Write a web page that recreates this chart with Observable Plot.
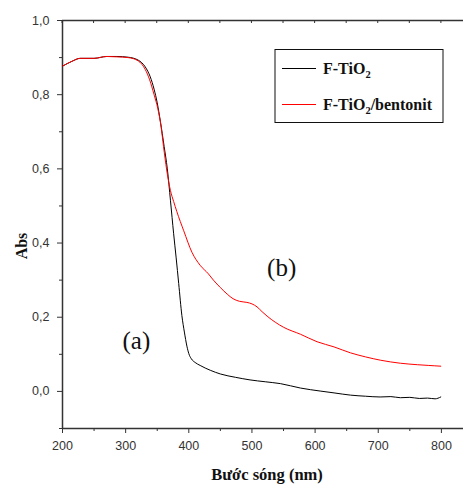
<!DOCTYPE html>
<html><head><meta charset="utf-8">
<script src="https://cdn.jsdelivr.net/npm/d3@7"></script>
<script src="https://cdn.jsdelivr.net/npm/@observablehq/plot@0.6"></script>
<style>body{margin:0;background:#fff} svg{display:block}</style>
</head><body><div id="chart"></div>
<script>
// ---- data ----
const xTicks = [200, 300, 400, 500, 600, 700, 800];
const xMinorTicks = [250, 350, 450, 550, 650, 750];
const xTopTicks = [200, 250, 300, 350, 400, 450, 500, 550, 600, 650, 700, 750, 800];
const yTicks = [0.0, 0.2, 0.4, 0.6, 0.8, 1.0];
const yMinorTicks = [-0.1, 0.1, 0.3, 0.5, 0.7, 0.9];

const seriesNames = ["F-TiO2", "F-TiO2/bentonit"];

const blackWl  = [200, 215, 228, 250, 270, 286, 304, 320, 331, 339, 345, 350, 355, 361, 366, 371, 376, 380, 384, 389, 393, 397, 400, 404, 410, 418, 426, 434, 450, 474, 497, 521, 545, 577, 608, 630, 656, 680, 703, 720, 735, 750, 765, 778, 790, 799];
const blackAbs = [0.877, 0.890, 0.898, 0.898, 0.903, 0.903, 0.901, 0.893, 0.875, 0.848, 0.815, 0.778, 0.728, 0.660, 0.600, 0.514, 0.425, 0.360, 0.291, 0.205, 0.160, 0.122, 0.102, 0.088, 0.078, 0.070, 0.063, 0.057, 0.047, 0.038, 0.031, 0.026, 0.021, 0.009, 0.001, -0.004, -0.010, -0.013, -0.015, -0.014, -0.017, -0.016, -0.019, -0.018, -0.020, -0.015];

const redWl  = [200, 215, 228, 250, 270, 286, 304, 320, 331, 338, 345, 351, 356, 360, 365, 371, 376, 381, 392, 405, 418, 431, 439, 450, 461, 470, 480, 492, 500, 508, 516, 524, 550, 577, 603, 630, 656, 680, 704, 735, 762, 780, 799];
const redAbs = [0.877, 0.890, 0.898, 0.898, 0.903, 0.902, 0.900, 0.891, 0.868, 0.840, 0.800, 0.762, 0.715, 0.660, 0.597, 0.541, 0.512, 0.485, 0.433, 0.375, 0.340, 0.317, 0.300, 0.280, 0.262, 0.250, 0.243, 0.240, 0.236, 0.228, 0.215, 0.203, 0.173, 0.154, 0.134, 0.120, 0.104, 0.093, 0.084, 0.076, 0.072, 0.070, 0.068];

const annotText = ["(a)", "(b)"];
const annotWl   = [317, 547];
const annotAbs  = [0.137, 0.334];

const xLabel = "Bước sóng (nm)";
const yLabel = "Abs";

// ---- build tables ----
const black = blackWl.map((w, i) => ({wl: w, abs: blackAbs[i]}));
const red = redWl.map((w, i) => ({wl: w, abs: redAbs[i]}));
const annots = annotText.map((t, i) => ({t, wl: annotWl[i], abs: annotAbs[i]}));

const comma = d => d.toFixed(1).replace(".", ",");
const axisColor = "#333";

const plot = Plot.plot({
  width: 463, height: 484,
  marginLeft: 62, marginRight: 0, marginTop: 20, marginBottom: 56,
  x: {domain: [200, 835]},
  y: {domain: [-0.1, 1.0]},
  style: {fontFamily: "'Liberation Sans', Arial, sans-serif", fontSize: "12.5px", color: axisColor, background: "#fff"},
  marks: [
    Plot.axisX({ticks: xTicks, tickSize: 5, tickPadding: 8, tickFormat: d => String(d), label: null, stroke: axisColor, fill: axisColor}),
    Plot.axisX({ticks: xMinorTicks, tickSize: 3, tickFormat: () => "", label: null, stroke: axisColor}),
    Plot.axisY({ticks: yTicks, tickSize: 5, tickPadding: 8, tickFormat: comma, label: null, stroke: axisColor, fill: axisColor}),
    Plot.axisY({ticks: yMinorTicks, tickSize: 3, tickFormat: () => "", label: null, stroke: axisColor}),
    Plot.ruleX([200], {y1: -0.1, y2: 1.0, stroke: axisColor, strokeWidth: 1.5}),
    Plot.ruleY([-0.1, 1.0], {stroke: axisColor, strokeWidth: 1.5}),
    Plot.line(black, {x: "wl", y: "abs", stroke: "#000", strokeWidth: 1, curve: "monotone-x"}),
    Plot.line(red, {x: "wl", y: "abs", stroke: "#ff0000", strokeWidth: 1, curve: "monotone-x"}),
    Plot.text(annots, {x: "wl", y: "abs", text: "t", fontSize: 25, fontFamily: "'Liberation Serif', 'Times New Roman', serif", fill: "#111"})
  ]
});

document.getElementById("chart").appendChild(plot);

// extra decorations using the plot's own scales
const sx = plot.scale("x"), sy = plot.scale("y");
const svg = d3.select(plot);
const topY = sy.apply(1.0);
svg.append("g").selectAll("line").data(xTopTicks).join("line")
  .attr("x1", d => sx.apply(d)).attr("x2", d => sx.apply(d))
  .attr("y1", topY).attr("y2", topY + 3)
  .attr("stroke", axisColor).attr("stroke-width", 1);

// axis titles
const serif = "'Liberation Serif', 'Times New Roman', serif";
svg.append("text").attr("x", 267).attr("y", 480).attr("text-anchor", "middle")
  .attr("font-family", serif).attr("font-weight", "bold").attr("font-size", 16.5).attr("fill", "#111")
  .text(xLabel);
svg.append("text").attr("transform", "translate(27,246) rotate(-90)").attr("text-anchor", "middle")
  .attr("font-family", serif).attr("font-weight", "bold").attr("font-size", 16).attr("fill", "#111")
  .text(yLabel);

// legend
const lg = svg.append("g");
lg.append("rect").attr("x", 275).attr("y", 49.5).attr("width", 168).attr("height", 73)
  .attr("fill", "#fff").attr("stroke", "#111").attr("stroke-width", 1);
const rows = [{c: "#000", y: 68.5}, {c: "#ff0000", y: 104.5}];
rows.forEach((r, i) => {
  lg.append("line").attr("x1", 282).attr("x2", 316).attr("y1", r.y).attr("y2", r.y)
    .attr("stroke", r.c).attr("stroke-width", 1);
  const t = lg.append("text").attr("x", 323).attr("y", r.y + 5.5).attr("text-anchor", "start")
    .attr("font-family", serif).attr("font-weight", "bold").attr("font-size", 16).attr("fill", "#111");
  t.append("tspan").text("F-TiO");
  t.append("tspan").attr("font-size", 10.5).attr("dy", 4).text("2");
  if (i === 1) t.append("tspan").attr("dy", -4).text("/bentonit");
});
</script>
</body></html>
